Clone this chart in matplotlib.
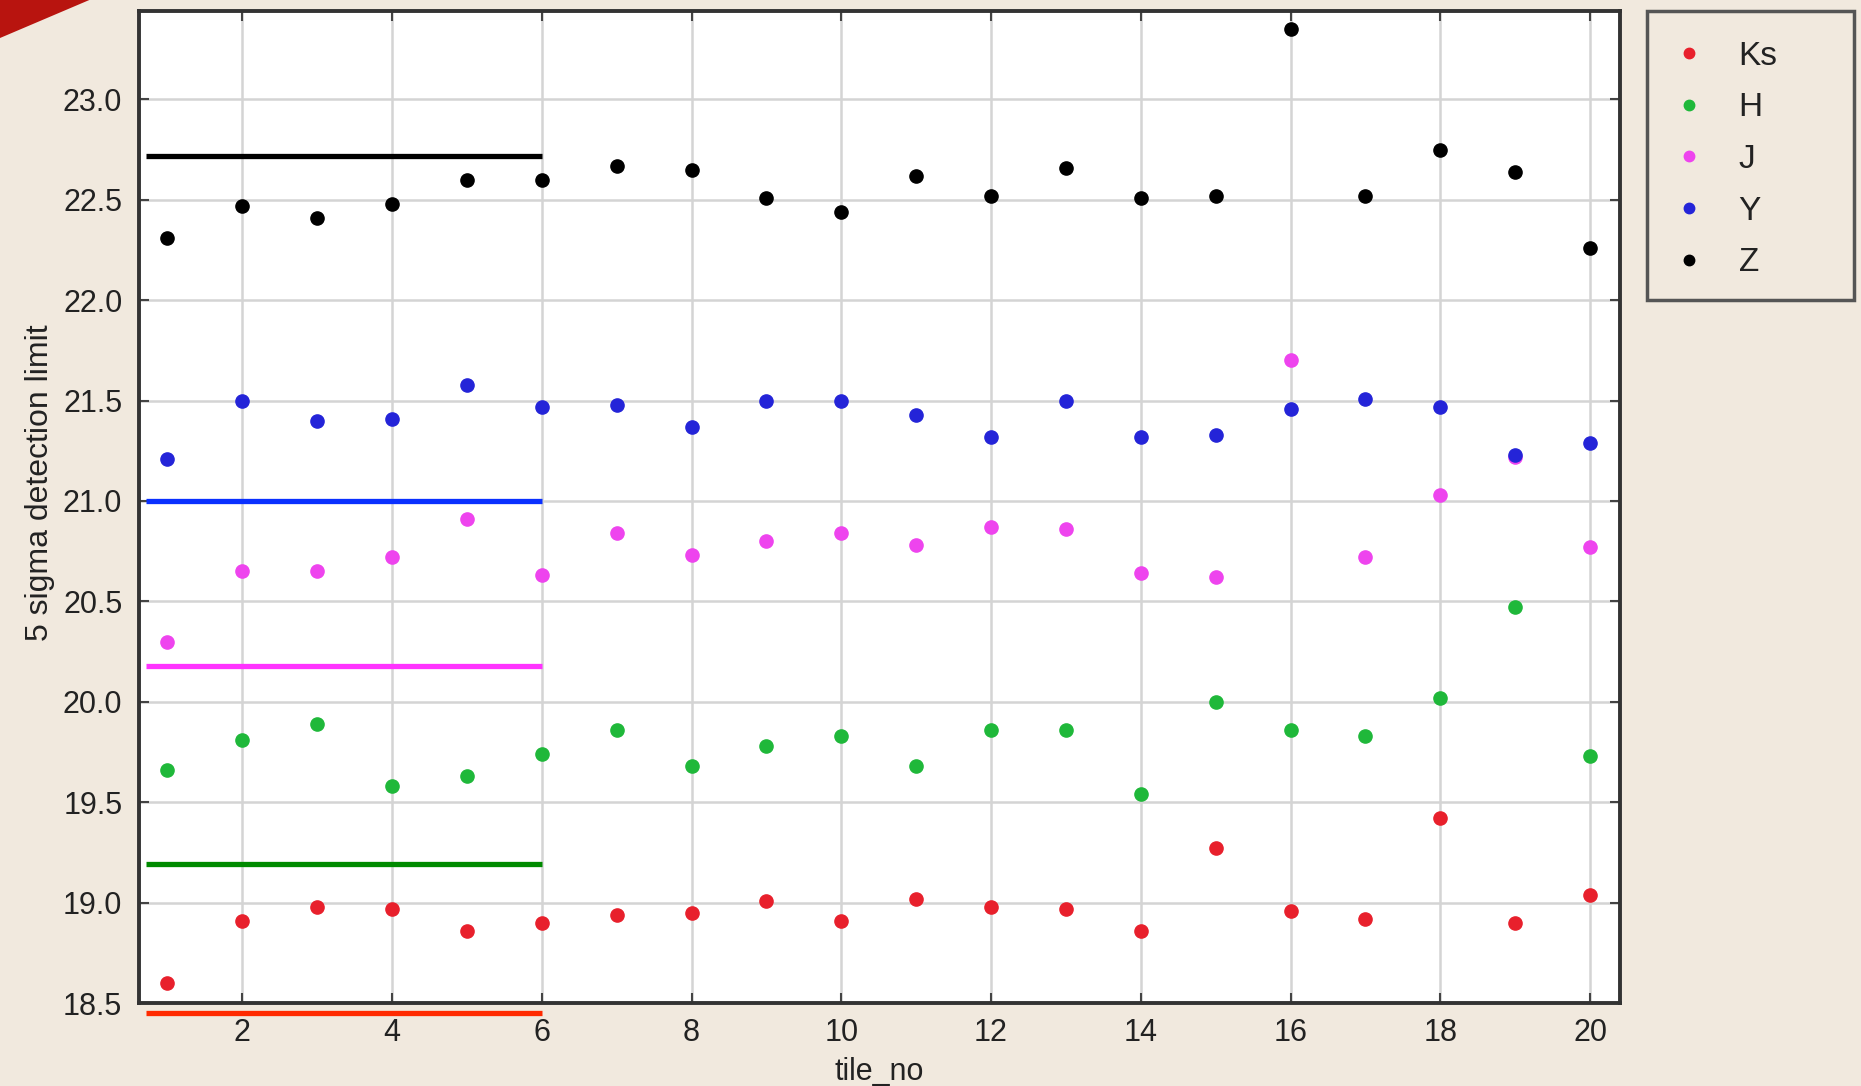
import matplotlib
matplotlib.use("Agg")
import matplotlib.pyplot as plt
from matplotlib.patches import Polygon, Rectangle
from matplotlib.lines import Line2D

# tile numbers and 5-sigma limiting magnitudes per band
tiles = list(range(1, 21))
ks = [18.60, 18.91, 18.98, 18.97, 18.86, 18.90, 18.94, 18.95, 19.01, 18.91,
      19.02, 18.98, 18.97, 18.86, 19.27, 18.96, 18.92, 19.42, 18.90, 19.04]
h = [19.66, 19.81, 19.89, 19.58, 19.63, 19.74, 19.86, 19.68, 19.78, 19.83,
     19.68, 19.86, 19.86, 19.54, 20.00, 19.86, 19.83, 20.02, 20.47, 19.73]
j = [20.30, 20.65, 20.65, 20.72, 20.91, 20.63, 20.84, 20.73, 20.80, 20.84,
     20.78, 20.87, 20.86, 20.64, 20.62, 21.70, 20.72, 21.03, 21.22, 20.77]
y = [21.21, 21.50, 21.40, 21.41, 21.58, 21.47, 21.48, 21.37, 21.50, 21.50,
     21.43, 21.32, 21.50, 21.32, 21.33, 21.46, 21.51, 21.47, 21.23, 21.29]
z = [22.31, 22.47, 22.41, 22.48, 22.60, 22.60, 22.67, 22.65, 22.51, 22.44,
     22.62, 22.52, 22.66, 22.51, 22.52, 23.35, 22.52, 22.75, 22.64, 22.26]

bands = ["Ks", "H", "J", "Y", "Z"]
series = [ks, h, j, y, z]
point_colors = ["#e8202c", "#1fb83a", "#ee44ee", "#2424d8", "#000000"]

# reference depth for tiles 1-6 in each band
ref_depth = [18.45, 19.19, 20.18, 21.00, 22.72]
ref_span = (0.72, 6.0)
ref_colors = ["#ff2a00", "#008a00", "#ff33ff", "#0a30ff", "#000000"]

W, H = 1861, 1086
bg = "#f1e9de"
plt.rcParams["font.family"] = ["Liberation Sans", "DejaVu Sans"]
fig = plt.figure(figsize=(W / 100, H / 100), dpi=100, facecolor=bg)

# red ribbon in the top-left corner
fig.patches.append(Polygon([(0, 1), (0.048, 1), (0, 0.965)], closed=True,
                           transform=fig.transFigure, facecolor="#b8140f",
                           edgecolor="none"))

ax = fig.add_axes([139 / W, 1 - 1003 / H, (1620 - 139) / W, (1003 - 11) / H])
ax.set_facecolor("white")

for vals, col, name in zip(series, point_colors, bands):
    ax.plot(tiles, vals, linestyle="none", marker="o", markersize=9.5,
            color=col, label=name, zorder=3)

for d, col in zip(ref_depth, ref_colors):
    ax.plot(ref_span, [d, d], color=col, linewidth=3.8, solid_capstyle="butt",
            clip_on=False, zorder=4)

ax.set_xlim(0.62, 20.4)
ax.set_ylim(18.5, 23.44)
ax.set_xticks(range(2, 21, 2))
ax.set_yticks([18.5, 19.0, 19.5, 20.0, 20.5, 21.0, 21.5, 22.0, 22.5, 23.0])
ax.yaxis.set_major_formatter(matplotlib.ticker.FormatStrFormatter("%.1f"))
ax.grid(True, color="#d4d4d4", linewidth=1.8, zorder=0)
ax.set_axisbelow(True)
ax.tick_params(direction="in", length=7, width=1.5, color="#444444",
               top=True, right=True, labelsize=22, labelcolor="#222222")
ax.tick_params(axis="x", pad=11)
ax.tick_params(axis="y", pad=12)
for s in ax.spines.values():
    s.set_color("#333333")
    s.set_linewidth(2.8)

ax.set_xlabel("tile_no", fontsize=22, color="#222222")
ax.xaxis.set_label_coords(0.5, -0.054)
ax.set_ylabel("5 sigma detection limit", fontsize=23, color="#222222")
ax.yaxis.set_label_coords(-0.057, 0.525)

# legend on the parchment, right of the axes
lx0, ly0, lx1, ly1 = 1647, 11, 1854, 300
fig.patches.append(Rectangle((lx0 / W, 1 - ly1 / H), (lx1 - lx0) / W,
                             (ly1 - ly0) / H, transform=fig.transFigure,
                             facecolor="none", edgecolor="#555555",
                             linewidth=2.5))
handles = [Line2D([], [], linestyle="none", marker="o", markersize=7.5,
                  color=c) for c in point_colors]
leg = fig.legend(handles, bands, loc="upper left",
                 bbox_to_anchor=(lx0 / W, 1 - (ly0 + 4) / H),
                 fontsize=24, frameon=False,
                 handlelength=0.96, handletextpad=1.02, labelspacing=0.62,
                 borderpad=0.77, borderaxespad=0)
for t in leg.get_texts():
    t.set_color("#222222")

fig.savefig("out.png", dpi=100, facecolor=bg)
